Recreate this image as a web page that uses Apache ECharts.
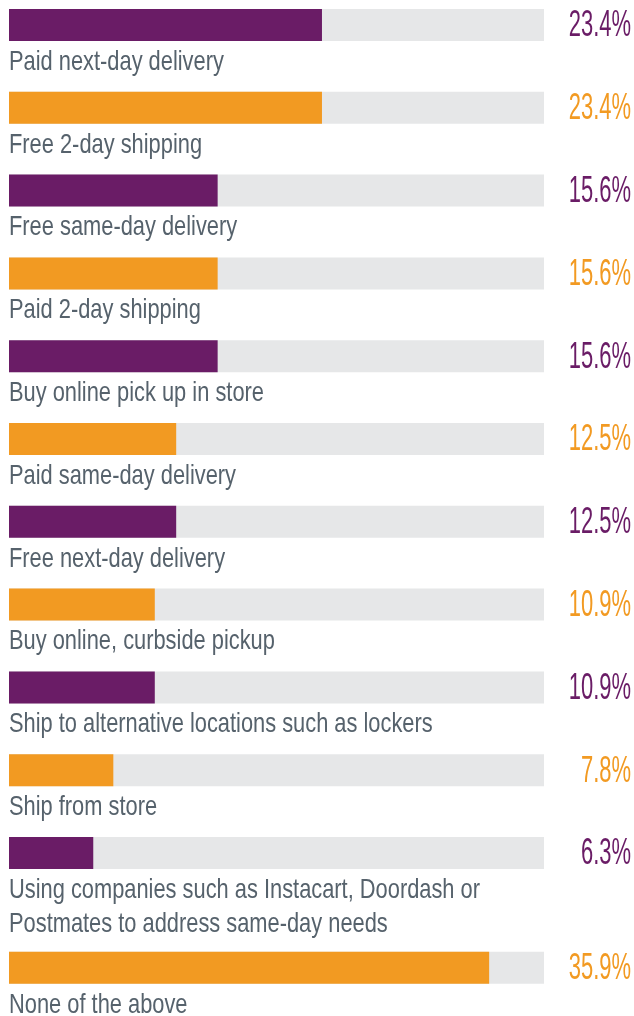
<!DOCTYPE html>
<html>
<head>
<meta charset="utf-8">
<script src="https://cdn.jsdelivr.net/npm/echarts@6/dist/echarts.min.js"></script>
<style>
html,body{margin:0;padding:0;background:#ffffff;}
#chart{width:634px;height:1016px;}
</style>
</head>
<body>
<div id="chart"></div>
<script>
// ---- data ----
const categories = [
  'Paid next-day delivery',
  'Free 2-day shipping',
  'Free same-day delivery',
  'Paid 2-day shipping',
  'Buy online pick up in store',
  'Paid same-day delivery',
  'Free next-day delivery',
  'Buy online, curbside pickup',
  'Ship to alternative locations such as lockers',
  'Ship from store',
  'Using companies such as Instacart, Doordash or\nPostmates to address same-day needs',
  'None of the above'
];
const values = [23.4, 23.4, 15.6, 15.6, 15.6, 12.5, 12.5, 10.9, 10.9, 7.8, 6.3, 35.9];
const axisMax = 40;

// ---- styling / layout ----
const PURPLE = '#6a1c66';
const ORANGE = '#f29a22';
const TRACK = '#e6e7e8';
const NAME_COLOR = '#56626c';
const LEFT = 9, TRACK_W = 535, BAR_H = 32, PITCH = 82.8, LINE_H = 34, TOP0 = 9;

const grids = [], xAxes = [], yAxes = [], series = [];
let extraLines = 0;
categories.forEach((name, i) => {
  const color = i % 2 === 0 ? PURPLE : ORANGE;
  const top = TOP0 + i * PITCH + extraLines * 32;
  extraLines += name.split('\n').length - 1;
  grids.push({left: LEFT, top: top, width: TRACK_W, height: BAR_H, containLabel: false});
  xAxes.push({type: 'value', gridIndex: i, min: 0, max: axisMax, show: false});
  yAxes.push({type: 'category', gridIndex: i, data: [name], show: false});
  series.push({
    type: 'bar', xAxisIndex: i, yAxisIndex: i,
    data: [values[i]], barWidth: BAR_H,
    showBackground: true, backgroundStyle: {color: TRACK},
    itemStyle: {color: color}, silent: true
  });
  series.push({
    type: 'custom', xAxisIndex: i, yAxisIndex: i, silent: true,
    data: [[values[i], 0]],
    encode: {x: 0, y: 1},
    renderItem: function (params, api) {
      const start = api.coord([0, 0]);
      const end = api.coord([axisMax, 0]);
      const cy = start[1];
      return {
        type: 'group',
        children: [
          {
            type: 'text', x: start[0], y: cy + BAR_H / 2 + 4, scaleX: 0.78,
            style: {text: name, font: '28px "Liberation Sans"', fill: NAME_COLOR,
                    align: 'left', verticalAlign: 'top', lineHeight: LINE_H}
          },
          {
            type: 'text', x: end[0] + 87, y: cy + 1.5, scaleX: 0.61,
            style: {text: api.value(0).toFixed(1) + '%', font: '36px "Liberation Sans"', fill: color,
                    align: 'right', verticalAlign: 'middle'}
          }
        ]
      };
    }
  });
});

const chart = echarts.init(document.getElementById('chart'));
chart.setOption({
  animation: false,
  backgroundColor: '#ffffff',
  grid: grids, xAxis: xAxes, yAxis: yAxes, series: series
});
</script>
</body>
</html>
